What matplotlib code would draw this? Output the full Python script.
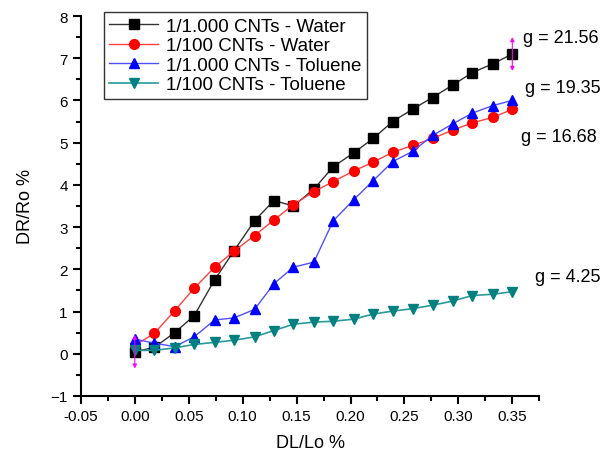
import matplotlib
matplotlib.use("Agg")
import matplotlib.pyplot as plt

plt.rcParams['font.family'] = ['Liberation Sans', 'DejaVu Sans']

# strain DL/Lo %
strain = [0.000, 0.018, 0.037, 0.055, 0.074, 0.092, 0.111, 0.129, 0.147, 0.166,
          0.184, 0.203, 0.221, 0.239, 0.258, 0.276, 0.295, 0.313, 0.332, 0.350]

# DR/Ro % for each sample
water_1000 = [0.05, 0.15, 0.50, 0.90, 1.75, 2.44, 3.15, 3.63, 3.50, 3.90,
              4.43, 4.76, 5.10, 5.50, 5.80, 6.07, 6.37, 6.66, 6.87, 7.10]
water_100 = [0.20, 0.48, 1.02, 1.55, 2.05, 2.43, 2.80, 3.17, 3.53, 3.84,
             4.08, 4.33, 4.54, 4.77, 4.94, 5.10, 5.30, 5.47, 5.60, 5.79]
toluene_1000 = [0.35, 0.25, 0.17, 0.40, 0.80, 0.85, 1.05, 1.66, 2.05, 2.17,
                3.15, 3.65, 4.10, 4.55, 4.80, 5.17, 5.45, 5.70, 5.88, 6.00]
toluene_100 = [0.08, 0.08, 0.14, 0.22, 0.27, 0.32, 0.40, 0.55, 0.70, 0.75,
               0.77, 0.82, 0.94, 1.01, 1.07, 1.15, 1.25, 1.38, 1.41, 1.47]

# error bars drawn on the 1/1.000 water curve
err_x = [0.000, 0.350]
err_y = [0.05, 7.10]
err_size = [0.4, 0.4]

gauge_labels = ["g = 21.56", "g = 19.35", "g = 16.68", "g = 4.25"]
gauge_pos = [(0.360, 7.49), (0.362, 6.30), (0.358, 5.14), (0.371, 1.82)]

fig = plt.figure(figsize=(6.08, 4.6), dpi=100)
ax = fig.add_axes([0.133, 0.137, 0.754, 0.826])

ax.plot(strain, water_1000, color="#333333", lw=1, marker="s", ms=6.5,
        mfc="black", mec="black", label="1/1.000 CNTs - Water")
ax.plot(strain, water_100, color="#ff4040", lw=1, marker="o", ms=7,
        mfc="red", mec="red", label="1/100 CNTs - Water")
ax.plot(strain, toluene_1000, color="#5050ff", lw=1, marker="^", ms=7.5,
        mfc="blue", mec="blue", label="1/1.000 CNTs - Toluene")
ax.plot(strain, toluene_100, color="#2a9a9a", lw=1.2, marker="v", ms=7.5,
        mfc="#008080", mec="#008080", label="1/100 CNTs - Toluene")

for x, y, e in zip(err_x, err_y, err_size):
    ax.annotate("", xy=(x, y + e), xytext=(x, y - e),
                arrowprops=dict(arrowstyle="<|-|>", color="magenta", lw=0.8,
                                mutation_scale=6, shrinkA=0, shrinkB=0))

for txt, (x, y) in zip(gauge_labels, gauge_pos):
    ax.text(x, y, txt, fontsize=13, ha="left", va="center")

ax.set_xlim(-0.05, 0.375)
ax.set_ylim(-1, 8)
ax.set_xticks([-0.05, 0.00, 0.05, 0.10, 0.15, 0.20, 0.25, 0.30, 0.35])
ax.set_xticklabels(["-0.05", "0.00", "0.05", "0.10", "0.15", "0.20", "0.25", "0.30", "0.35"])
ax.set_yticks(range(-1, 9))
ax.set_xticks([-0.025 + 0.05 * i for i in range(9)], minor=True)
ax.set_yticks([-0.5 + i for i in range(9)], minor=True)

ax.spines["top"].set_visible(False)
ax.spines["right"].set_visible(False)
ax.spines["left"].set_linewidth(1.5)
ax.spines["bottom"].set_linewidth(1.5)
ax.tick_params(which="major", direction="out", length=6, width=1.5, labelsize=11)
ax.tick_params(which="minor", direction="out", length=3.5, width=1.5)

ax.set_xlabel("DL/Lo %", fontsize=13, labelpad=8)
ax.set_ylabel("DR/Ro %", fontsize=13, labelpad=12)

leg = ax.legend(loc="upper left", bbox_to_anchor=(0.05, 1.01), fontsize=13.5,
                frameon=True, fancybox=False, edgecolor="black",
                handlelength=2.6, labelspacing=0.12, borderpad=0.3,
                handletextpad=0.4, borderaxespad=0)
leg.get_frame().set_linewidth(1)

fig.savefig("out.png", dpi=100)
